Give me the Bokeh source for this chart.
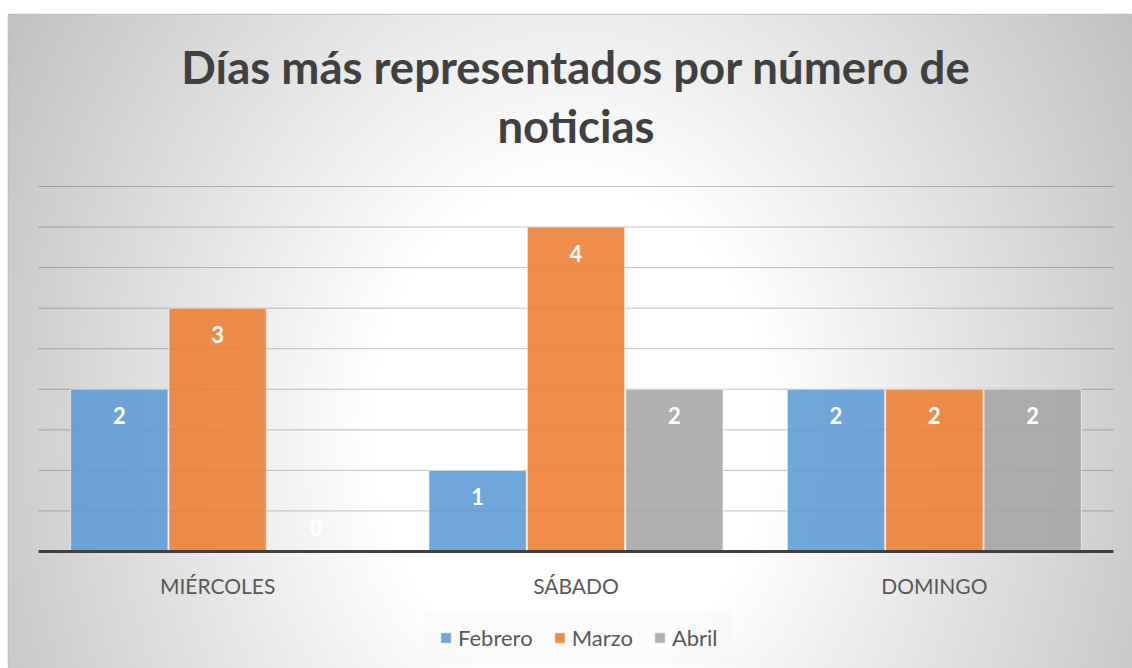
import numpy as np
from bokeh.plotting import figure
from bokeh.models import ColumnDataSource, Range1d, FixedTicker
from bokeh.transform import dodge
from bokeh.core.properties import value
from bokeh.embed import file_html
from bokeh.resources import INLINE

# ---- data ----
categories = ["MIÉRCOLES", "SÁBADO", "DOMINGO"]
febrero = [2, 1, 2]
marzo = [3, 4, 2]
abril = [0, 2, 2]
series_names = ["Febrero", "Marzo", "Abril"]
series_colors = ["#5B9BD5", "#ED7D31", "#A5A5A5"]
grid_levels = [0.5, 1.0, 1.5, 2.0, 2.5, 3.0, 3.5, 4.0, 4.5]
title_lines = ["Días más representados por número de", "noticias"]

FONT = "Lato"
W, H = 1132, 668
LEFT, TOP = 8, 14
FW, FH = W - LEFT, H - TOP

# ranges chosen so the frame covers the whole chart box
x0, x1 = -0.5837, 2.553
y0, y1 = -1.4425, 6.6206

p = figure(width=W, height=H, x_range=Range1d(x0, x1), y_range=Range1d(y0, y1),
           output_backend="svg", toolbar_location=None, title=None,
           min_border_top=TOP, min_border_left=LEFT, min_border_right=0, min_border_bottom=0,
           border_fill_color="white", background_fill_color="white")
p.outline_line_color = "#bfbfbf"
p.outline_line_width = 1.5
p.xgrid.visible = False
p.ygrid.visible = False
p.yaxis.visible = False

# ---- radial background gradient ----
jj, ii = np.mgrid[0:FH, 0:FW]
page_x = LEFT + ii + 0.5
page_y = H - jj - 0.5
dx = page_x - 570.0
dy = (page_y - 430.0) * 0.8
r = np.sqrt(dx * dx + dy * dy)
g = np.clip(255 - np.clip(r - 200, 0, None) * 0.136, 192, 255).astype(np.uint8)
img = np.empty((FH, FW), dtype=np.uint32)
view = img.view(dtype=np.uint8).reshape((FH, FW, 4))
view[..., 0] = g
view[..., 1] = g
view[..., 2] = g
view[..., 3] = 255
p.image_rgba(image=[img], x=x0, y=y0, dw=x1 - x0, dh=y1 - y0)

# ---- grid lines ----
p.segment(x0=[-0.5] * len(grid_levels), x1=[2.5] * len(grid_levels),
          y0=grid_levels, y1=grid_levels, line_color="black", line_alpha=0.24, line_width=1)

# ---- bars ----
xs = list(range(len(categories)))
src = ColumnDataSource(dict(x=xs, febrero=febrero, marzo=marzo, abril=abril))
offsets = [-0.2745, 0.0, 0.2745]
cols = ["febrero", "marzo", "abril"]
bar_w = 0.2715
for col, name, color, off in zip(cols, series_names, series_colors, offsets):
    p.vbar(x=dodge("x", off, range=p.x_range), top=col, width=bar_w, source=src,
           fill_color=color, fill_alpha=0.88, line_color="white", line_alpha=0.55,
           line_width=1, legend_label=name)

# ---- data labels ----
lx, ly, lt, loff = [], [], [], []
for col, off in zip(cols, offsets):
    vals = src.data[col]
    for xi, v in zip(xs, vals):
        lx.append(xi + off)
        ly.append(v)
        lt.append(str(v))
        loff.append(26.5 if v > 0 else -24)
lsrc = ColumnDataSource(dict(x=lx, y=ly, t=lt, yo=loff))
p.text(x="x", y="y", text="t", y_offset="yo", source=lsrc, text_align="center",
       text_baseline="middle", text_color="white", text_font=value(FONT),
       text_font_style="bold", text_font_size="22px")

# ---- title ----
p.text(x=[1.0, 1.0], y=[5.98, 5.255], text=title_lines, text_align="center",
       text_baseline="alphabetic", text_color="#404040", text_font=value(FONT),
       text_font_style="bold", text_font_size="45.5px")

# ---- category axis ----
ax = p.xaxis[0]
ax.fixed_location = 0
ax.bounds = (-0.5, 2.5)
ax.ticker = FixedTicker(ticks=xs)
ax.major_label_overrides = {i: c for i, c in zip(xs, categories)}
ax.axis_line_color = "#404040"
ax.axis_line_width = 3
ax.major_tick_line_color = None
ax.minor_tick_line_color = None
ax.major_label_standoff = 16
ax.major_label_text_font = FONT
ax.major_label_text_font_size = "21px"
ax.major_label_text_color = "#595959"

# ---- legend ----
lg = p.legend[0]
lg.orientation = "horizontal"
lg.location = (417, 3)
lg.padding = 14
lg.margin = 0
lg.spacing = 20
lg.glyph_width = 13
lg.glyph_height = 13
lg.label_height = 20
lg.label_standoff = 6
lg.label_text_font = FONT
lg.label_text_font_size = "22px"
lg.label_text_color = "#595959"
lg.background_fill_color = "#eeeeee"
lg.background_fill_alpha = 0.2
lg.border_line_alpha = 0

open("out.html", "w").write(file_html(p, INLINE))
